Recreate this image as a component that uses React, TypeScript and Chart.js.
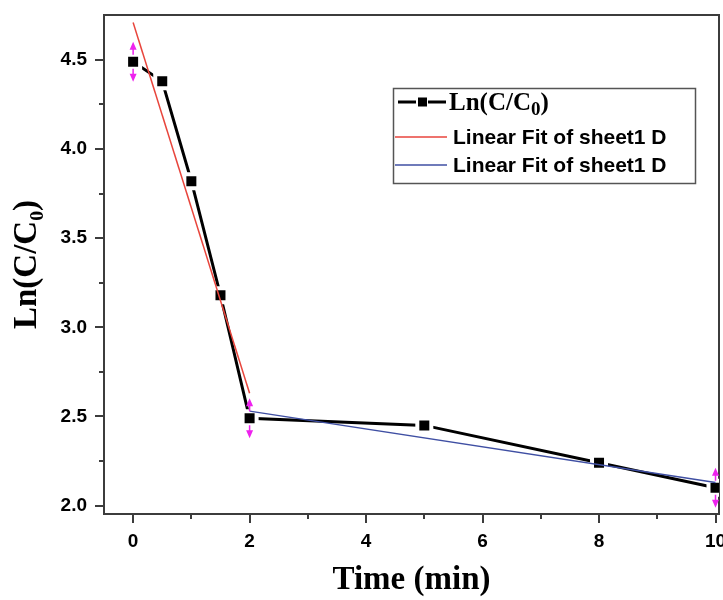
import React, { useEffect, useRef } from "react";
import { Chart, registerables } from "chart.js";

Chart.register(...registerables);

// ---- data ----
const timeValues = [0, 0.5, 1, 1.5, 2, 5, 8, 10];
const lnValues = [4.49, 4.38, 3.82, 3.18, 2.49, 2.45, 2.24, 2.1];
const redFitX = [0, 2];
const redFitY = [4.71, 2.63];
const blueFitX = [2, 10];
const blueFitY = [2.53, 2.13];
const arrowX = [0, 2, 10];
const xMajorTicks = [0, 2, 4, 6, 8, 10];
const xMinorTicks = [1, 3, 5, 7, 9];
const yMajorTicks = [2.0, 2.5, 3.0, 3.5, 4.0, 4.5];
const yMinorTicks = [2.25, 2.75, 3.25, 3.75, 4.25];
const seriesLabels = ["Ln(C/C₀)", "Linear Fit of sheet1 D", "Linear Fit of sheet1 D"];
const xTitle = "Time (min)";
const yTitle = "Ln(C/C₀)";

const AXIS = "#3c3c3c";
const RED = "#e8453c";
const BLUE = "#3f4fa3";
const MAGENTA = "#ee22ee";

const framePlugin = {
  id: "frameTicks",
  beforeDatasetsDraw(chart: any) {
    const { ctx, chartArea: a, scales } = chart;
    const x = scales.x;
    const y = scales.y;
    ctx.save();
    ctx.strokeStyle = AXIS;
    ctx.lineWidth = 2;
    ctx.strokeRect(a.left, a.top, a.right - a.left, a.bottom - a.top);
    ctx.beginPath();
    for (const v of xMajorTicks) {
      const p = Math.round(x.getPixelForValue(v));
      ctx.moveTo(p, a.bottom);
      ctx.lineTo(p, a.bottom + 9);
    }
    for (const v of xMinorTicks) {
      const p = Math.round(x.getPixelForValue(v));
      ctx.moveTo(p, a.bottom);
      ctx.lineTo(p, a.bottom + 5);
    }
    for (const v of yMajorTicks) {
      const p = Math.round(y.getPixelForValue(v));
      ctx.moveTo(a.left, p);
      ctx.lineTo(a.left - 9, p);
    }
    for (const v of yMinorTicks) {
      const p = Math.round(y.getPixelForValue(v));
      ctx.moveTo(a.left, p);
      ctx.lineTo(a.left - 5, p);
    }
    ctx.stroke();
    ctx.restore();
  },
};

const arrowPlugin = {
  id: "arrows",
  afterDatasetsDraw(chart: any) {
    const { ctx, scales } = chart;
    ctx.save();
    ctx.fillStyle = MAGENTA;
    ctx.strokeStyle = MAGENTA;
    ctx.lineWidth = 1.5;
    for (const xv of arrowX) {
      const i = timeValues.indexOf(xv);
      if (i < 0) continue;
      const cx = scales.x.getPixelForValue(xv);
      const cy = scales.y.getPixelForValue(lnValues[i]);
      ctx.beginPath();
      ctx.moveTo(cx, cy - 7);
      ctx.lineTo(cx, cy - 13);
      ctx.moveTo(cx, cy + 7);
      ctx.lineTo(cx, cy + 13);
      ctx.stroke();
      ctx.beginPath();
      ctx.moveTo(cx, cy - 20);
      ctx.lineTo(cx - 3.5, cy - 12);
      ctx.lineTo(cx + 3.5, cy - 12);
      ctx.closePath();
      ctx.moveTo(cx, cy + 20);
      ctx.lineTo(cx - 3.5, cy + 12);
      ctx.lineTo(cx + 3.5, cy + 12);
      ctx.closePath();
      ctx.fill();
    }
    ctx.restore();
  },
};

const legendPlugin = {
  id: "boxLegend",
  afterDraw(chart: any) {
    const { ctx } = chart;
    const ds = chart.data.datasets;
    const bx = 393.5;
    const by = 88.5;
    const bw = 302;
    const bh = 95;
    ctx.save();
    ctx.fillStyle = "#ffffff";
    ctx.fillRect(bx, by, bw, bh);
    ctx.strokeStyle = "#555555";
    ctx.lineWidth = 1.5;
    ctx.strokeRect(bx, by, bw, bh);

    // entry 1: line + marker, serif label with subscript
    const y1 = 102;
    ctx.strokeStyle = ds[0].borderColor;
    ctx.lineWidth = 3;
    ctx.beginPath();
    ctx.moveTo(398, y1);
    ctx.lineTo(416, y1);
    ctx.moveTo(428, y1);
    ctx.lineTo(446, y1);
    ctx.stroke();
    ctx.fillStyle = ds[0].borderColor;
    ctx.fillRect(418, y1 - 4.5, 9, 9);

    const label: string = ds[0].label;
    ctx.fillStyle = "#000";
    ctx.textBaseline = "alphabetic";
    ctx.textAlign = "left";
    let tx = 449;
    const base = 110;
    const parts = label.split("₀");
    ctx.font = "bold 25px 'Liberation Serif', 'Times New Roman', serif";
    ctx.fillText(parts[0], tx, base);
    tx += ctx.measureText(parts[0]).width;
    if (parts.length > 1) {
      ctx.font = "bold 19px 'Liberation Serif', 'Times New Roman', serif";
      ctx.fillText("0", tx, base + 5);
      tx += ctx.measureText("0").width;
      ctx.font = "bold 25px 'Liberation Serif', 'Times New Roman', serif";
      ctx.fillText(parts[1], tx, base);
    }

    // entries 2,3
    const rows = [137, 165];
    for (let k = 1; k <= 2; k++) {
      const yy = rows[k - 1];
      ctx.strokeStyle = ds[k].borderColor;
      ctx.lineWidth = 1.5;
      ctx.beginPath();
      ctx.moveTo(395, yy);
      ctx.lineTo(447, yy);
      ctx.stroke();
      ctx.fillStyle = "#000";
      ctx.font = "bold 21px 'Liberation Sans', Arial, sans-serif";
      ctx.textBaseline = "middle";
      ctx.fillText(ds[k].label, 453, yy + 1);
    }
    ctx.restore();
  },
};

const zeroPadding = (s: any) => {
  s.paddingTop = 0;
  s.paddingBottom = 0;
  s.paddingLeft = 0;
  s.paddingRight = 0;
};

export default function App() {
  const ref = useRef<HTMLCanvasElement | null>(null);

  useEffect(() => {
    if (!ref.current) return;
    const tickFont = { family: "'Liberation Sans', Arial, sans-serif", size: 19, weight: "bold" as const };
    const titleFont = { family: "'Liberation Serif', 'Times New Roman', serif", size: 33, weight: "bold" as const };
    const chart = new Chart(ref.current, {
      type: "line",
      data: {
        datasets: [
          {
            label: seriesLabels[0],
            data: timeValues.map((t, i) => ({ x: t, y: lnValues[i] })),
            borderColor: "#000000",
            borderWidth: 3,
            pointStyle: "rect",
            pointRadius: 9.9,
            pointBackgroundColor: "#000000",
            pointBorderColor: "#ffffff",
            pointBorderWidth: 4,
            tension: 0,
            order: 2,
          },
          {
            label: seriesLabels[1],
            data: redFitX.map((t, i) => ({ x: t, y: redFitY[i] })),
            borderColor: RED,
            borderWidth: 1.5,
            pointRadius: 0,
            order: 1,
          },
          {
            label: seriesLabels[2],
            data: blueFitX.map((t, i) => ({ x: t, y: blueFitY[i] })),
            borderColor: BLUE,
            borderWidth: 1.5,
            pointRadius: 0,
            order: 0,
          },
        ],
      },
      options: {
        animation: false,
        responsive: false,
        layout: { autoPadding: false, padding: { left: 0, top: 15, right: 4, bottom: 0 } },
        plugins: { legend: { display: false }, tooltip: { enabled: false } },
        scales: {
          x: {
            type: "linear",
            min: -0.5,
            max: 10.06,
            grid: { display: false, drawTicks: false },
            border: { display: false },
            afterBuildTicks: (s: any) => {
              s.ticks = xMajorTicks.map((v) => ({ value: v }));
            },
            afterFit: (s: any) => {
              s.height = 86;
              zeroPadding(s);
            },
            ticks: {
              color: "#000",
              font: tickFont,
              padding: 16,
              maxRotation: 0,
              callback: (v: any) => String(v),
            },
            title: {
              display: true,
              text: xTitle,
              color: "#000",
              font: titleFont,
              padding: { top: 0, bottom: 0 },
            },
          },
          y: {
            type: "linear",
            min: 1.953,
            max: 4.752,
            grid: { display: false, drawTicks: false },
            border: { display: false },
            afterBuildTicks: (s: any) => {
              s.ticks = yMajorTicks.map((v) => ({ value: v }));
            },
            afterFit: (s: any) => {
              s.width = 104;
              zeroPadding(s);
            },
            ticks: {
              color: "#000",
              font: tickFont,
              padding: 17,
              callback: (v: any) => Number(v).toFixed(1),
            },
            title: {
              display: true,
              text: yTitle,
              color: "#000",
              font: titleFont,
              padding: { top: 8, bottom: 0 },
            },
          },
        },
      },
      plugins: [framePlugin, arrowPlugin, legendPlugin],
    } as any);
    return () => chart.destroy();
  }, []);

  return (
    <div style={{ position: "fixed", left: 0, top: 0, width: 723, height: 600, background: "#fff" }}>
      <canvas ref={ref} width={723} height={600} style={{ display: "block" }} />
    </div>
  );
}
